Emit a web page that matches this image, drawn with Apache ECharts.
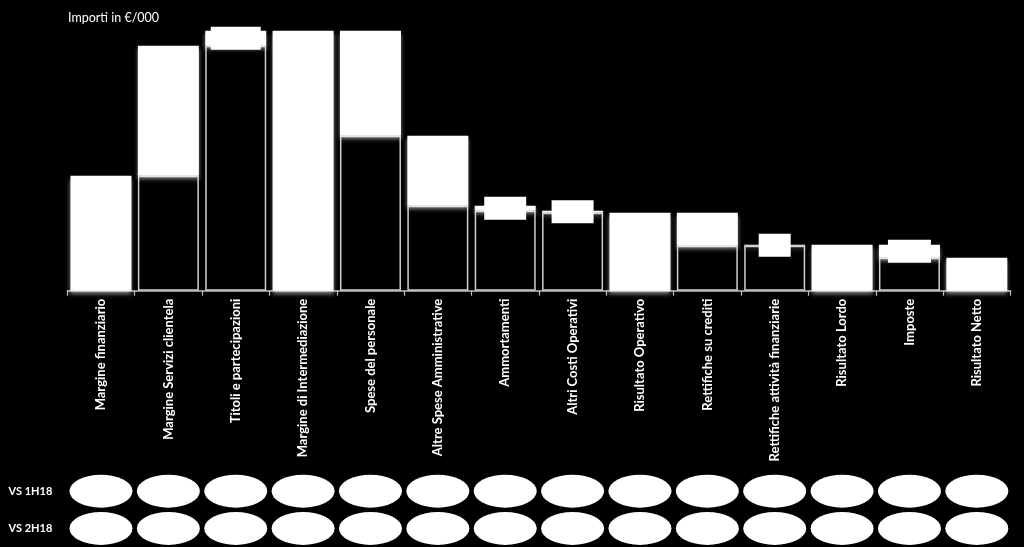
<!DOCTYPE html>
<html>
<head>
<meta charset="utf-8">
<script src="https://cdn.jsdelivr.net/npm/echarts@6/dist/echarts.min.js"></script>
<style>
  html, body { margin: 0; padding: 0; background: #000; }
  #chart { width: 1024px; height: 547px; }
</style>
</head>
<body>
<div id="chart"></div>
<script>
// ---- data ----
const categories = [
  'Margine finanziario', 'Margine Servizi clientela', 'Titoli e partecipazioni',
  'Margine di Intermediazione', 'Spese del personale', 'Altre Spese Amministrative',
  'Ammortamenti', 'Altri Costi Operativi', 'Risultato Operativo', 'Rettifiche su crediti',
  'Rettifiche attività finanziarie', 'Risultato Lordo', 'Imposte', 'Risultato Netto'
];
// amounts (€/000, relative scale); totals are full bars
const amounts = [115, 130, 15, 260, -105, -70, -5, -2, 78, -33, 1, 46, -13, 33];
const isTotal = [true, false, false, true, false, false, false, false, true, false, false, true, false, true];
const comparisonRows = ['VS 1H18', 'VS 2H18'];
// items whose value label is shown (as a blank white box in the picture)
const labelledItems = ['Titoli e partecipazioni', 'Ammortamenti', 'Altri Costi Operativi',
  'Rettifiche attività finanziarie', 'Imposte'];

// ---- styles (not data) ----
const labelBoxWidth = { 'Titoli e partecipazioni': 50, 'Ammortamenti': 42, 'Altri Costi Operativi': 42,
  'Rettifiche attività finanziarie': 32, 'Imposte': 43 };
const FONT = 'Lato, "Open Sans", sans-serif';

// ---- waterfall build ----
const baseData = [];
const deltaData = [];
let level = 0;
categories.forEach((c, i) => {
  const a = amounts[i];
  if (isTotal[i]) {
    baseData.push('-');
    level = a;
    deltaData.push({ value: a });
  } else {
    const start = level, end = level + a;
    baseData.push(Math.min(start, end));
    level = end;
    const item = { value: Math.abs(a) };
    if (labelledItems.includes(c)) {
      item.label = {
        show: true, position: 'inside', formatter: ' ',
        backgroundColor: '#fff', width: labelBoxWidth[c], height: 23, lineHeight: 23,
        padding: 0, borderRadius: 0
      };
    }
    deltaData.push(item);
  }
});

const ellipseData = [];
categories.forEach((c, i) => {
  comparisonRows.forEach((r) => ellipseData.push([c, r]));
});

const chart = echarts.init(document.getElementById('chart'), null, { renderer: 'canvas' });
chart.setOption({
  backgroundColor: '#000',
  animation: false,
  title: {
    text: 'Importi in €/000', left: 68, top: 11, padding: 0,
    textStyle: { color: '#fff', fontSize: 12.5, fontWeight: 'normal', fontFamily: FONT }
  },
  grid: [
    { left: 67.3, right: 13.5, top: 30.7, bottom: 256.3 },
    { left: 67.3, right: 13.5, top: 472.5, height: 76 }
  ],
  xAxis: [
    {
      type: 'category', data: categories, gridIndex: 0,
      axisLine: { lineStyle: { color: '#bfbfbf', width: 1.5 } },
      axisTick: { show: true, length: 5, lineStyle: { color: '#bfbfbf', width: 1.2 } },
      axisLabel: { interval: 0, rotate: 90, margin: 8, color: '#fff', fontWeight: 'bold',
        fontSize: 13, fontFamily: FONT }
    },
    { type: 'category', data: categories, gridIndex: 1, show: false }
  ],
  yAxis: [
    { type: 'value', gridIndex: 0, min: 0, max: 260, show: false },
    {
      type: 'category', data: comparisonRows, gridIndex: 1, inverse: true,
      axisLine: { show: false }, axisTick: { show: false }, splitLine: { show: false },
      axisLabel: { color: '#fff', fontWeight: 'bold', fontSize: 11, margin: 15, fontFamily: FONT }
    }
  ],
  series: [
    {
      name: 'base', type: 'bar', stack: 'w', xAxisIndex: 0, yAxisIndex: 0,
      barWidth: 61, data: baseData,
      itemStyle: { color: '#000', borderColor: '#d0d0d0', borderWidth: 1.5 }
    },
    {
      name: 'delta', type: 'bar', stack: 'w', xAxisIndex: 0, yAxisIndex: 0,
      barWidth: 61, data: deltaData,
      itemStyle: { color: '#fff', shadowColor: 'rgba(255,255,255,0.5)', shadowBlur: 4, shadowOffsetY: 3 }
    },
    {
      name: 'confronto', type: 'scatter', xAxisIndex: 1, yAxisIndex: 1,
      symbol: 'circle', symbolSize: [63, 33], data: ellipseData,
      itemStyle: { color: '#fff', opacity: 1 }
    }
  ]
});
</script>
</body>
</html>
